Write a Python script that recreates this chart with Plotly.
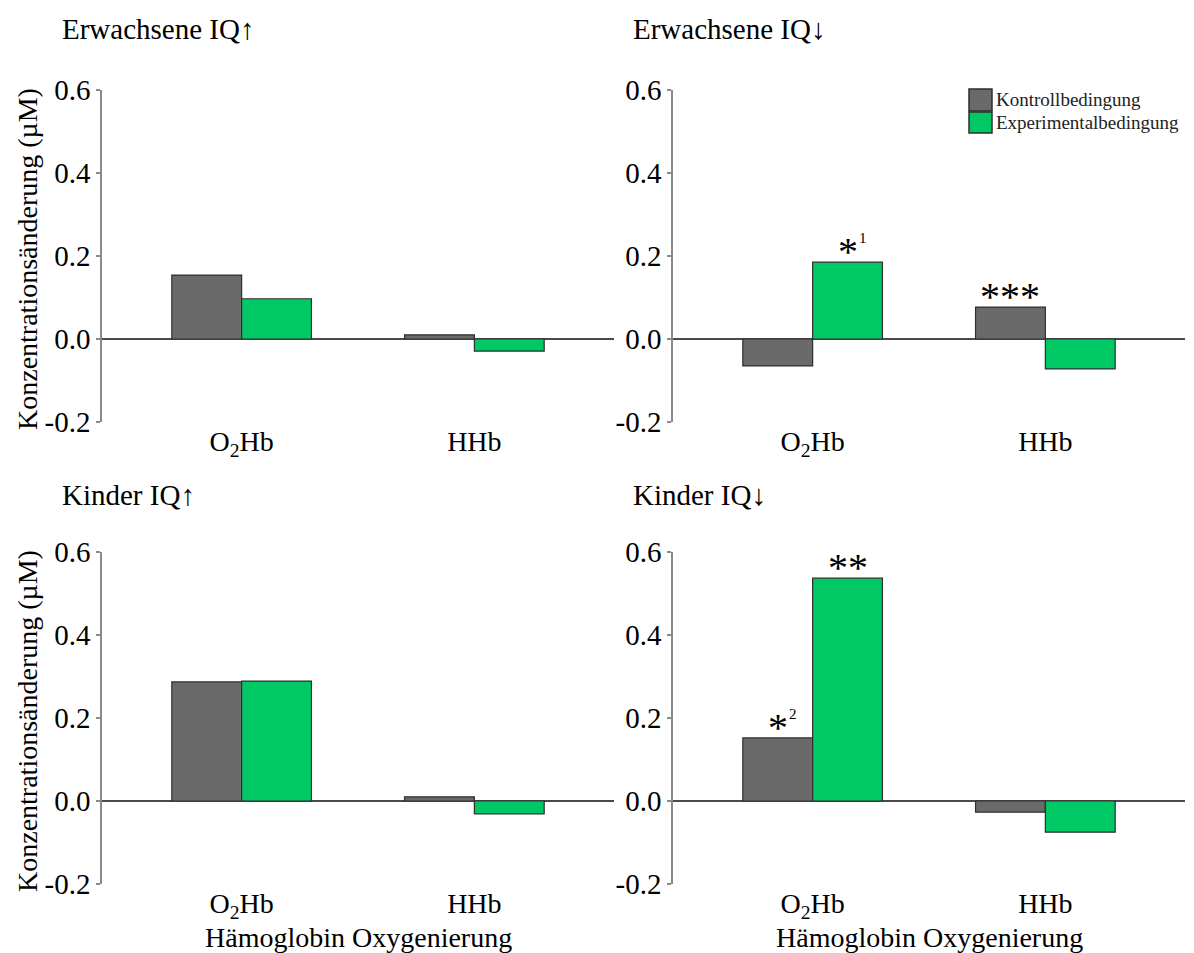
import plotly.graph_objects as go

# ---------------- data ----------------
panel_titles = ["Erwachsene IQ↑", "Erwachsene IQ↓", "Kinder IQ↑", "Kinder IQ↓"]
categories = ["O<sub>2</sub>Hb", "HHb"]
series_names = ["Kontrollbedingung", "Experimentalbedingung"]
kontroll = [[0.154, 0.010], [-0.065, 0.077], [0.287, 0.010], [0.152, -0.027]]
experimental = [[0.097, -0.029], [0.185, -0.072], [0.289, -0.031], [0.537, -0.075]]
y_tickvals = [-0.2, 0.0, 0.2, 0.4, 0.6]
y_ticktext = ["-0.2", "0.0", "0.2", "0.4", "0.6"]
# (panel index, category index, series index, stars, footnote)
significance = [
    (1, 0, 1, "*", "1"),
    (1, 1, 0, "***", ""),
    (3, 0, 0, "*", "2"),
    (3, 0, 1, "**", ""),
]
y_title = "Konzentrationsänderung (µM)"
x_title = "Hämoglobin Oxygenierung"

# ---------------- style / layout ----------------
OFF = 8  # page body margin
W, H = 1194 - OFF, 953 - OFF
FONT = "Liberation Serif, Times New Roman, serif"
colors = ["#6a6a6a", "#00c864"]
outline = "#2e2e2e"
axis_col = "#8a8a8a"
xdom_px = [(102, 614), (673, 1185)]
ydom_px = [(90, 422), (552, 884)]
title_pos = [(60, 29), (631, 29), (60, 495), (631, 495)]


def px_x(x):
    return (x - OFF) / W


def px_y(y):
    return 1 - (y - OFF) / H


fig = go.Figure()
values = [kontroll, experimental]
cat_x = list(range(len(categories)))

for p in range(4):
    n = "" if p == 0 else str(p + 1)
    for s in range(2):
        fig.add_trace(go.Bar(
            x=cat_x, y=values[s][p], name=series_names[s],
            xaxis="x" + n, yaxis="y" + n,
            marker=dict(color=colors[s], line=dict(color=outline, width=1.2)),
            showlegend=False, hoverinfo="y",
        ))

layout = dict(
    width=W, height=H,
    margin=dict(l=0, r=0, t=0, b=0),
    paper_bgcolor="white", plot_bgcolor="white",
    barmode="group", bargap=0.4, bargroupgap=0,
    font=dict(family=FONT, color="black"),
    annotations=[], shapes=[],
)

for p in range(4):
    row, col = divmod(p, 2)
    n = "" if p == 0 else str(p + 1)
    x0, x1 = xdom_px[col]
    y0, y1 = ydom_px[row]
    layout["xaxis" + n] = dict(
        domain=[px_x(x0), px_x(x1)], anchor="y" + n,
        range=[-0.6, 1.6], tickvals=cat_x, ticktext=categories,
        showline=False, showgrid=False, zeroline=False, ticks="",
        tickfont=dict(size=28, family=FONT, color="black"), automargin=False,
    )
    layout["yaxis" + n] = dict(
        domain=[px_y(y1), px_y(y0)], anchor="x" + n,
        range=[-0.2, 0.6], tickvals=y_tickvals, ticktext=y_ticktext,
        showline=True, linecolor=axis_col, linewidth=1.5,
        ticks="outside", ticklen=4, tickcolor=axis_col, tickwidth=1.5,
        showgrid=False, zeroline=True, zerolinecolor="#4a4a4a", zerolinewidth=1.5,
        tickfont=dict(size=29, family=FONT, color="black"), automargin=False,
    )
    tx, ty = title_pos[p]
    layout["annotations"].append(dict(
        text=panel_titles[p], x=px_x(tx), y=px_y(ty), xref="paper", yref="paper",
        xanchor="left", yanchor="middle", showarrow=False,
        font=dict(size=29, family=FONT, color="black"),
    ))
    if col == 0:
        layout["annotations"].append(dict(
            text=y_title, x=px_x(27), y=px_y((y0 + y1) / 2 + 3), xref="paper", yref="paper",
            xanchor="center", yanchor="middle", textangle=-90, showarrow=False,
            font=dict(size=28, family=FONT, color="black"),
        ))
    if row == 1:
        layout["annotations"].append(dict(
            text=x_title, x=px_x((x0 + x1) / 2), y=px_y(937), xref="paper", yref="paper",
            xanchor="center", yanchor="middle", showarrow=False,
            font=dict(size=28, family=FONT, color="black"),
        ))

# significance markers
for (p, c, s, stars, note) in significance:
    n = "" if p == 0 else str(p + 1)
    offset = -0.15 if s == 0 else 0.15
    val = values[s][p][c]
    layout["annotations"].append(dict(
        text=stars, x=c + offset, y=val, xref="x" + n, yref="y" + n,
        xanchor="center", yanchor="bottom", showarrow=False, yshift=-14,
        font=dict(size=40, family=FONT, color="black"),
    ))
    if note:
        layout["annotations"].append(dict(
            text=note, x=c + offset, y=val, xref="x" + n, yref="y" + n,
            xanchor="left", yanchor="bottom", showarrow=False,
            xshift=9, yshift=14,
            font=dict(size=15, family=FONT, color="black"),
        ))

# legend (drawn in the top-right panel)
leg_rows = [(89, 111), (112, 133)]
for s in range(2):
    ya, yb = leg_rows[s]
    layout["shapes"].append(dict(
        type="rect", xref="paper", yref="paper",
        x0=px_x(969), x1=px_x(992), y0=px_y(yb), y1=px_y(ya),
        fillcolor=colors[s], line=dict(color=outline, width=1.5),
    ))
    layout["annotations"].append(dict(
        text=series_names[s], x=px_x(994), y=px_y((ya + yb) / 2),
        xref="paper", yref="paper", xanchor="left", yanchor="middle",
        showarrow=False, font=dict(size=19, family=FONT, color="#222"),
    ))

fig.update_layout(**layout)
fig.write_html("out.html")
